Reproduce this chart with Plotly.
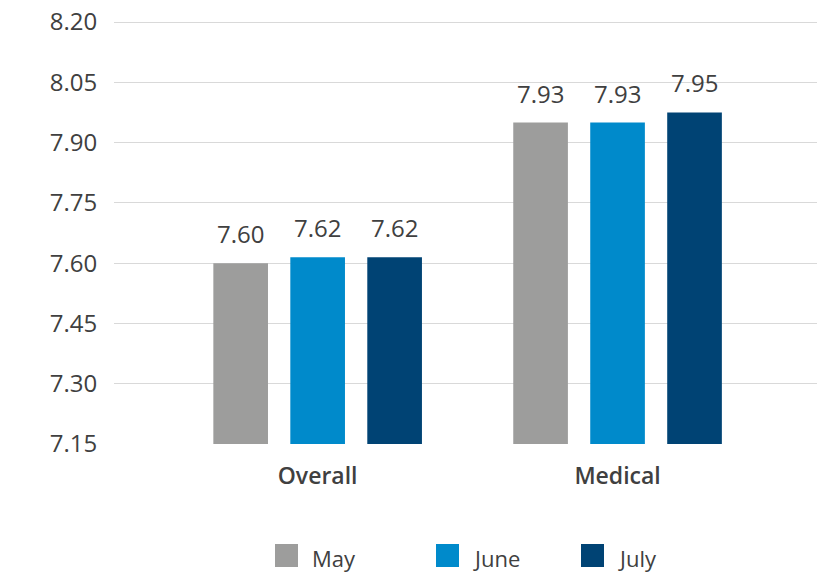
import plotly.graph_objects as go

categories = ["Overall", "Medical"]
series = ["May", "June", "July"]
# bar heights as drawn in the picture, and the printed labels
may_vals = [7.60, 7.95]
june_vals = [7.615, 7.95]
july_vals = [7.615, 7.975]
may_labels = ["7.60", "7.93"]
june_labels = ["7.62", "7.93"]
july_labels = ["7.62", "7.95"]
y_ticks = [7.15, 7.30, 7.45, 7.60, 7.75, 7.90, 8.05, 8.20]

colors = ["#9d9d9c", "#008acb", "#004374"]
values = [may_vals, june_vals, july_vals]
labels = [may_labels, june_labels, july_labels]
font_family = "Open Sans"
text_color = "#404040"

top, bottom, left, right = 14, 137, 114, 15
plot_h = 581 - top - bottom
plot_w = 832 - left - right

fig = go.Figure()
for name, vals, col in zip(series, values, colors):
    fig.add_trace(go.Bar(x=categories, y=vals, name=name, marker_color=col,
                         marker_line_width=0, showlegend=False))

# value labels above the bars
slot_px = 77
for i, (vals, labs) in enumerate(zip(values, labels)):
    for cat, v, lab in zip(categories, vals, labs):
        fig.add_annotation(x=cat, y=v, text=lab, showarrow=False,
                           xshift=(i - 1) * slot_px, yanchor="bottom", yshift=11,
                           font=dict(size=24, color=text_color, family=font_family))

# legend drawn by hand so the keys are as big as in the original
legend_x = [275, 436, 581]
for name, col, lx in zip(series, colors, legend_x):
    fig.add_shape(type="rect", xref="paper", yref="paper",
                  x0=(lx - left) / plot_w, x1=(lx + 23 - left) / plot_w,
                  y0=(581 - bottom - 567) / plot_h, y1=(581 - bottom - 544) / plot_h,
                  fillcolor=col, line_width=0)
    fig.add_annotation(xref="paper", yref="paper", x=(lx + 35 - left) / plot_w,
                       y=(581 - bottom - 558) / plot_h, text=name, showarrow=False,
                       xanchor="left", yanchor="middle",
                       font=dict(size=22, color=text_color, family=font_family))

fig.update_layout(
    width=832, height=581,
    margin=dict(l=left, r=right, t=top, b=bottom),
    paper_bgcolor="white", plot_bgcolor="white",
    barmode="group", bargap=0.23, bargroupgap=0.29,
    font=dict(family=font_family, color=text_color),
)
fig.update_xaxes(range=[-0.679, 1.665], showgrid=False, showline=False, automargin=False,
                 ticks="outside", ticklen=11, tickcolor="rgba(0,0,0,0)",
                 tickfont=dict(size=23, color=text_color, family=font_family, weight=600))
fig.update_yaxes(range=[7.15, 8.22], tickvals=y_ticks, automargin=False,
                 ticktext=["%.2f" % t for t in y_ticks],
                 showgrid=True, gridcolor="#d9d9d9", gridwidth=1, zeroline=False,
                 ticks="outside", ticklen=11, tickcolor="rgba(0,0,0,0)",
                 tickfont=dict(size=24, color=text_color, family=font_family))

fig.write_html("out.html", config={"displayModeBar": False},
               post_script="document.body.style.margin='0';document.body.style.overflow='hidden';")
